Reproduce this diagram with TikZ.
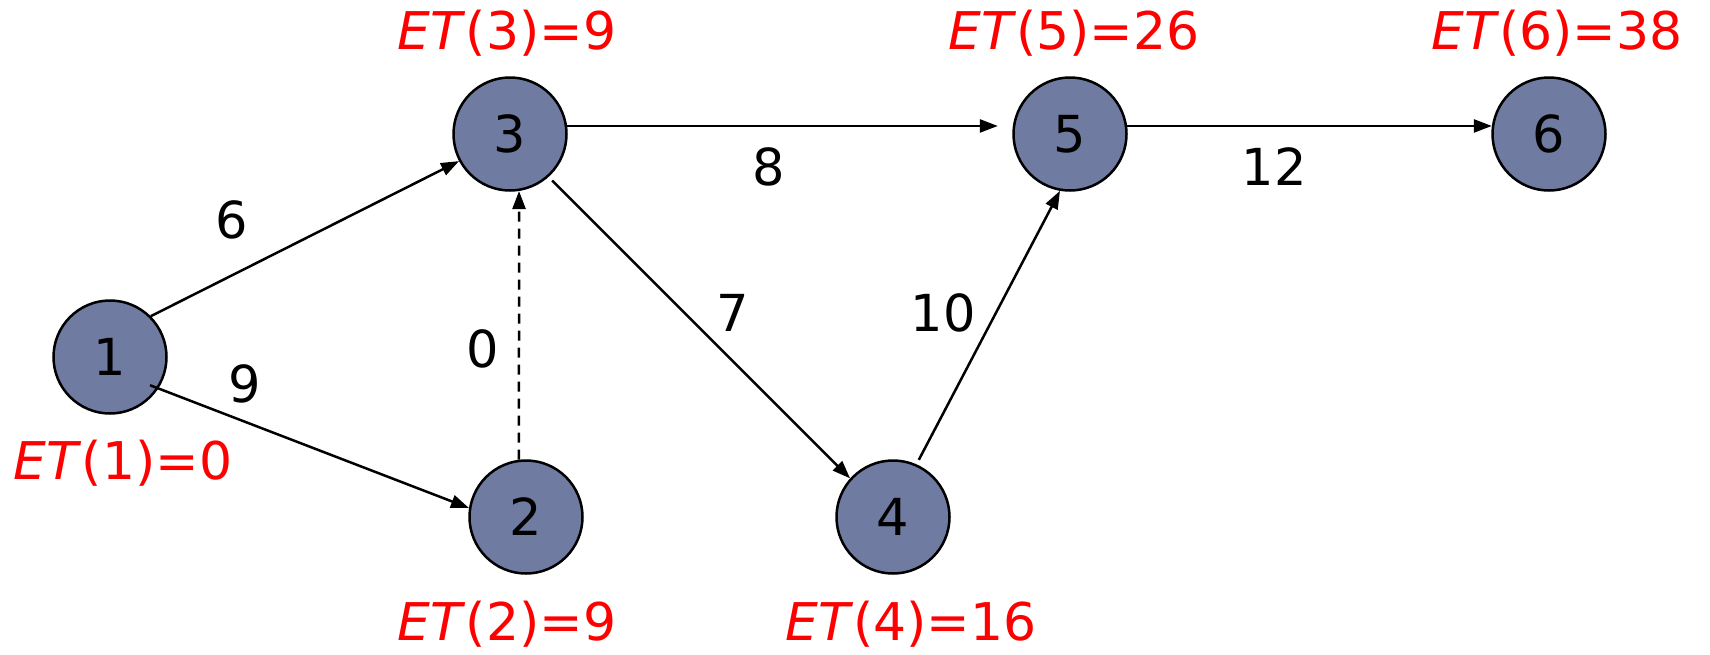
\documentclass[tikz,border=0pt]{standalone}
\usepackage{fontspec}
\setmainfont{DejaVu Sans}
\usetikzlibrary{arrows.meta}
\definecolor{nodefill}{RGB}{111,123,160}
\tikzset{
  ev/.style={circle,draw=black,line width=2.5pt,fill=nodefill,minimum size=113pt,inner sep=0pt,font=\fontsize{51}{60}\selectfont},
  et/.style={text=red,font=\fontsize{52}{60}\selectfont,inner sep=0pt},
  wt/.style={text=black,font=\fontsize{51}{60}\selectfont,inner sep=0pt},
  act/.style={line width=2.5pt,-{Triangle[length=18pt,width=13pt]}},
  dum/.style={act,dash pattern=on 10pt off 7pt}
}
\begin{document}
\begin{tikzpicture}[x=1pt,y=-1pt]
\useasboundingbox (0,0) rectangle (1710,654);
\node[ev] (n1) at (110,357) {1};
\node[ev] (n3) at (510,134) {3};
\node[ev] (n2) at (526,517) {2};
\node[ev] (n4) at (893,517) {4};
\node[ev] (n5) at (1070,134) {5};
\node[ev] (n6) at (1549,134) {6};

\node[et] (e3) at (507,33) {\textit{ET}(3)=9};
\node[et] (e5) at (1074,33) {\textit{ET}(5)=26};
\node[et] (e6) at (1557,33) {\textit{ET}(6)=38};
\node[et] (e1) at (123,463) {\textit{ET}(1)=0};
\node[et] (e2) at (507,624) {\textit{ET}(2)=9};
\node[et] (e4) at (911,624) {\textit{ET}(4)=16};

\draw[act] (n1.45) -- (n3.-152);
\draw[act,shorten <=-9pt] (n1.-33) -- (n2.171);
\draw[dum] (n2.97) -- (n3.-81);
\draw[act,shorten >=15pt] (n3.8) -- (n5.172);
\draw[act] (n5.8) -- (n6.172);
\draw[act,shorten <=5pt] (n3.-48) -- (n4.138);
\draw[act,shorten <=5pt] (n4.66) -- (n5.-100);

\node[wt] (w13) at (232,220) {6};
\node[wt] (w12) at (245,384) {9};
\node[wt] (w23) at (483,349) {0};
\node[wt] (w35) at (769,167) {8};
\node[wt] (w34) at (733,313) {7};
\node[wt] (w45) at (943,313) {10};
\node[wt] (w56) at (1274,167) {12};
\end{tikzpicture}
\end{document}
